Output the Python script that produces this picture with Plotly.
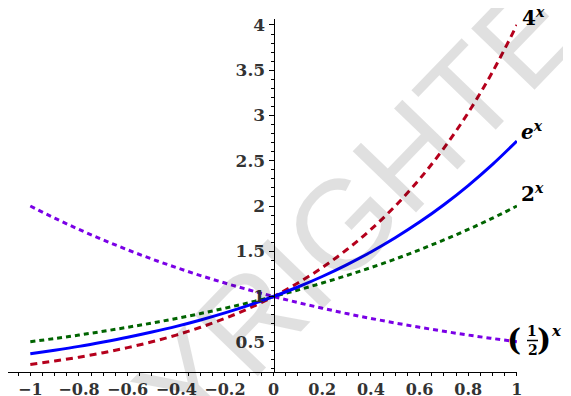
import plotly.graph_objects as go

# ---- data ----
x_vals = [-1.0, -0.9, -0.8, -0.7, -0.6, -0.5, -0.4, -0.3, -0.2, -0.1, 0.0,
          0.1, 0.2, 0.3, 0.4, 0.5, 0.6, 0.7, 0.8, 0.9, 1.0]
four_x = [0.25, 0.287, 0.33, 0.379, 0.435, 0.5, 0.574, 0.66, 0.758, 0.871, 1.0,
          1.149, 1.32, 1.516, 1.741, 2.0, 2.297, 2.639, 3.031, 3.482, 4.0]
e_x = [0.368, 0.407, 0.449, 0.497, 0.549, 0.607, 0.67, 0.741, 0.819, 0.905, 1.0,
       1.105, 1.221, 1.35, 1.492, 1.649, 1.822, 2.014, 2.226, 2.46, 2.718]
two_x = [0.5, 0.536, 0.574, 0.616, 0.66, 0.707, 0.758, 0.812, 0.871, 0.933, 1.0,
         1.072, 1.149, 1.231, 1.32, 1.414, 1.516, 1.625, 1.741, 1.866, 2.0]
half_x = [2.0, 1.866, 1.741, 1.625, 1.516, 1.414, 1.32, 1.231, 1.149, 1.072, 1.0,
          0.933, 0.871, 0.812, 0.758, 0.707, 0.66, 0.616, 0.574, 0.536, 0.5]

x_ticks = [-1.0, -0.8, -0.6, -0.4, -0.2, 0.0, 0.2, 0.4, 0.6, 0.8, 1.0]
y_ticks = [0.5, 1.0, 1.5, 2.0, 2.5, 3.0, 3.5, 4.0]

# page body has an 8px margin; the figure is sized / placed to compensate
OFF = 8
W, H = 563, 388
ML, MR, MT, MB = 0, 54, 11, 24
XR = [-1.0917, 1.0005]
YR = [0.166, 4.066]

YTICKFONT = dict(family="DejaVu Serif", size=17, color="#333333", weight="bold")
XTICKFONT = dict(family="DejaVu Serif", size=16, color="#333333", weight="bold")
LABFONT = "DejaVu Serif"

fig = go.Figure()

series = [
    (half_x, "#7a00e6", "5px,4px"),
    (two_x, "#006400", "5px,4px"),
    (four_x, "#b5001c", "7px,5px"),
    (e_x, "#0000ff", "solid"),
]
for ys, col, dash in series:
    fig.add_trace(go.Scatter(
        x=x_vals, y=ys, mode="lines",
        line=dict(color=col, width=3, dash=dash, shape="spline"),
        hoverinfo="skip", showlegend=False))

pw = W - ML - MR
ph = H - MT - MB


def px_to_paper_x(px):
    return (px - OFF - ML) / pw


def py_to_paper_y(py):
    return (H - MB - (py - OFF)) / ph


annotations = []
# watermark
annotations.append(dict(
    text="COPYRIGHTED", xref="paper", yref="paper",
    x=px_to_paper_x(292), y=py_to_paper_y(276),
    xanchor="center", yanchor="middle", showarrow=False, textangle=-46,
    font=dict(family="Liberation Sans", size=128, color="rgba(0,0,0,0.12)")))


def lab(text, px, py, size=20):
    annotations.append(dict(
        text=text, xref="paper", yref="paper",
        x=px_to_paper_x(px), y=py_to_paper_y(py),
        xanchor="left", yanchor="middle", showarrow=False,
        font=dict(family=LABFONT, size=size, color="black")))


lab("<b>4</b><sup><b><i>x</i></b></sup>", 520, 17)
lab("<b><i>e</i></b><sup><b><i>x</i></b></sup>", 519, 131)
lab("<b>2</b><sup><b><i>x</i></b></sup>", 519, 193)


def piece(text, px, py, size):
    annotations.append(dict(
        text=text, xref="paper", yref="paper",
        x=px_to_paper_x(px), y=py_to_paper_y(py),
        xanchor="center", yanchor="middle", showarrow=False,
        font=dict(family=LABFONT, size=size, color="black")))


piece("<b>(</b>", 514, 339, 30)
piece("<b>1</b>", 532, 331, 14)
piece("<b>2</b>", 532.5, 350, 14)
piece("<b>)</b>", 544, 339, 30)
piece("<b><i>x</i></b>", 556, 331, 15)

shapes = [dict(type="line", xref="paper", yref="paper",
               x0=px_to_paper_x(527), x1=px_to_paper_x(538),
               y0=py_to_paper_y(340.5), y1=py_to_paper_y(340.5),
               line=dict(color="black", width=1.5))]

fig.update_layout(
    width=W, height=H,
    margin=dict(l=ML, r=MR, t=MT, b=MB, autoexpand=False),
    paper_bgcolor="white", plot_bgcolor="white",
    annotations=annotations, shapes=shapes,
    xaxis=dict(
        range=XR, tickvals=x_ticks, showgrid=False, zeroline=False,
        showline=True, linecolor="black", linewidth=1,
        ticks="outside", ticklen=3, tickcolor="black", tickwidth=1,
        tickfont=XTICKFONT,
        minor=dict(dtick=0.05, tick0=0, ticks="outside", ticklen=3, tickcolor="black"),
        automargin=False, fixedrange=True),
    yaxis=dict(
        range=YR, tickvals=y_ticks, showgrid=False, zeroline=False,
        showline=True, linecolor="black", linewidth=1,
        anchor="free", position=(0 - XR[0]) / (XR[1] - XR[0]),
        ticks="outside", ticklen=5, tickcolor="black", tickwidth=1,
        tickfont=YTICKFONT,
        minor=dict(dtick=0.1, tick0=0, ticks="outside", ticklen=3, tickcolor="black"),
        automargin=False, fixedrange=True),
)

fig.write_html("out.html")
